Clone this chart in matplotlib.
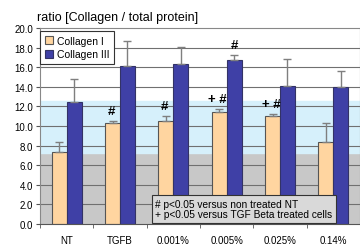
import numpy as np
import matplotlib
matplotlib.use("Agg")
from matplotlib import pyplot as plt

# data
categories = ['NT', 'TGFB', '0.001%', '0.005%', '0.025%', '0.14%']
col1 = [7.3, 10.3, 10.5, 11.4, 11.0, 8.4]
col1_err = [1.1, 0.2, 0.5, 0.3, 0.2, 1.9]
col3 = [12.5, 16.1, 16.3, 16.7, 14.1, 13.95]
col3_err = [2.3, 2.6, 1.8, 0.5, 2.7, 1.65]
col1_marks = ['', '#', '#', '+ #', '+ #', '']
col3_marks = ['', '', '', '#', '', '']
band_gray = 7.2
band_blue = 12.6

plt.rcParams['font.family'] = ['Liberation Sans', 'DejaVu Sans']

fig = plt.figure(figsize=(3.6, 2.51), dpi=100)
ax = fig.add_axes([40 / 360, 26 / 251, 320 / 360, 196 / 251])

x = np.arange(len(categories))
w = 0.28

# background bands
ax.axhspan(0, band_gray, color='#c8c8c8', zorder=0)
ax.axhspan(band_gray, band_blue, color='#d6f0fb', zorder=0)

for yv in np.arange(2, 20, 2):
    ax.axhline(yv, color='#707070', lw=0.8, zorder=1)

ax.bar(x - w / 2, col1, w, color='#ffd5a0', edgecolor='#555555', lw=0.8,
       yerr=[np.zeros(len(col1)), col1_err], ecolor='#7f7f7f',
       error_kw=dict(lw=1, capsize=3, capthick=1), label='Collagen I', zorder=2)
ax.bar(x + w / 2, col3, w, color='#3f40a6', edgecolor='#333366', lw=0.8,
       yerr=[np.zeros(len(col3)), col3_err], ecolor='#7f7f7f',
       error_kw=dict(lw=1, capsize=3, capthick=1), label='Collagen III', zorder=2)

for i in range(len(categories)):
    if col1_marks[i]:
        ax.annotate(col1_marks[i], (x[i] - w / 2, col1[i] + col1_err[i]),
                    xytext=(-1, 3), textcoords='offset points', ha='center',
                    va='bottom', fontsize=9.5, fontweight='bold')
    if col3_marks[i]:
        ax.annotate(col3_marks[i], (x[i] + w / 2, col3[i] + col3_err[i]),
                    xytext=(0, 3), textcoords='offset points', ha='center',
                    va='bottom', fontsize=9.5, fontweight='bold')

ax.set_xlim(-0.5, len(categories) - 0.5)
ax.set_ylim(0, 20)
ax.set_yticks(np.arange(0, 21, 2))
ax.set_yticklabels(['%.1f' % v for v in np.arange(0, 21, 2)], fontsize=7)
ax.set_xticks(x)
ax.set_xticklabels(categories, fontsize=7)
ax.set_xticks(np.arange(-0.5, len(categories), 1), minor=True)
ax.tick_params(axis='x', which='major', length=0, pad=8)
ax.tick_params(axis='x', which='minor', length=3, color='#555555')
ax.tick_params(axis='y', length=3, color='#555555', pad=2)
for s in ax.spines.values():
    s.set_color('#888888')
    s.set_linewidth(0.8)
ax.spines['bottom'].set_color('#555555')

# second row labels (cut off at the bottom of the picture)
ax.text(1, -0.245, '20ng/ml', transform=ax.get_xaxis_transform(),
        ha='center', va='top', fontsize=6.5)
ax.text(3.5, -0.245, 'STAW-CB 50', transform=ax.get_xaxis_transform(),
        ha='center', va='top', fontsize=8)
for xb in [1.92, 4.95]:
    ax.plot([xb, xb], [-0.2, -0.3], transform=ax.get_xaxis_transform(),
            color='#555555', lw=0.8, clip_on=False)

ax.text(-0.01, 1.025, 'ratio [Collagen / total protein]', transform=ax.transAxes,
        ha='left', va='bottom', fontsize=9)

leg = ax.legend(loc='upper left', bbox_to_anchor=(0.0, 0.985), fontsize=7.5,
                frameon=True, fancybox=False, borderpad=0.45, handlelength=0.8,
                handleheight=0.8, handletextpad=0.4, labelspacing=0.35,
                borderaxespad=0.0)
leg.get_frame().set_edgecolor('#333333')
leg.get_frame().set_linewidth(0.8)
leg.get_frame().set_facecolor('white')
leg.get_frame().set_alpha(1)

ax.text(0.36, 0.025, '# p<0.05 versus non treated NT\n+ p<0.05 versus TGF Beta treated cells',
        transform=ax.transAxes, ha='left', va='bottom', fontsize=7.3,
        linespacing=1.05, zorder=5,
        bbox=dict(boxstyle='square,pad=0.35', fc='#d9d9d9', ec='#333333', lw=0.8))

fig.savefig('out.png', dpi=100)
